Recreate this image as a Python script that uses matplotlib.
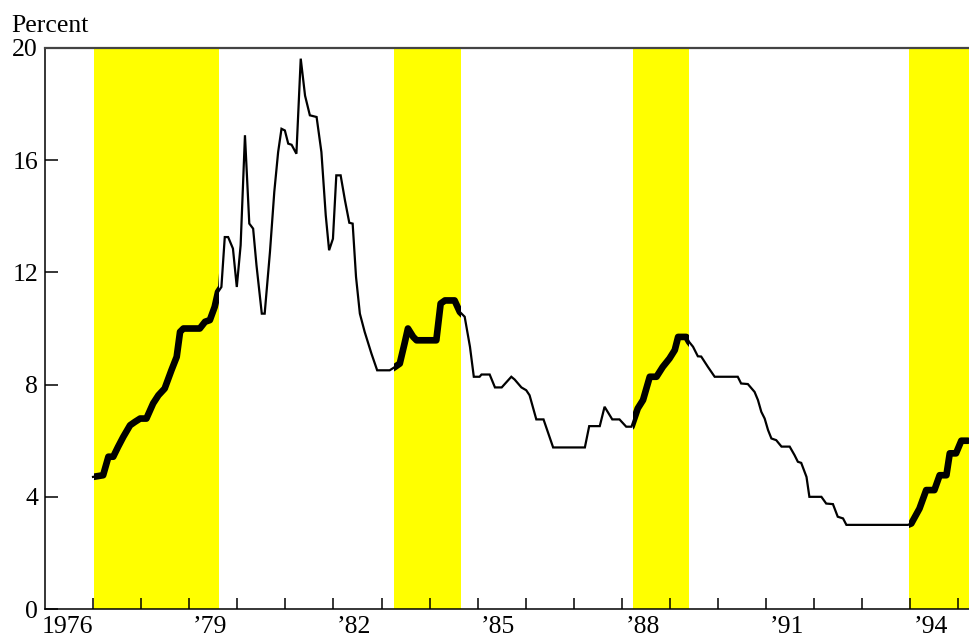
import matplotlib
matplotlib.use("Agg")
import matplotlib.pyplot as plt

plt.rcParams['font.family'] = ['Liberation Serif', 'DejaVu Serif']

# rate readings (decimal year, percent)
dates = [1977.00, 1977.21, 1977.32, 1977.42, 1977.52, 1977.63, 1977.77, 1977.87,
         1977.98, 1978.11, 1978.25, 1978.36, 1978.49, 1978.63, 1978.74, 1978.81,
         1978.88, 1979.22, 1979.33, 1979.43, 1979.53, 1979.60, 1979.67, 1979.74,
         1979.81, 1979.91, 1979.99, 1980.07, 1980.16, 1980.25, 1980.33, 1980.40,
         1980.51, 1980.57, 1980.68, 1980.77, 1980.85, 1980.92, 1980.99, 1981.06,
         1981.13, 1981.23, 1981.32, 1981.41, 1981.51, 1981.65, 1981.75, 1981.84,
         1981.91, 1981.99, 1982.06, 1982.15, 1982.24, 1982.33, 1982.40, 1982.47,
         1982.55, 1982.65, 1982.79, 1982.91, 1983.17, 1983.28, 1983.38, 1983.48,
         1983.55, 1983.66, 1983.73, 1984.14, 1984.23, 1984.32, 1984.52, 1984.63,
         1984.73, 1984.84, 1984.92, 1985.04, 1985.08, 1985.25, 1985.36, 1985.50,
         1985.70, 1985.77, 1985.91, 1986.01, 1986.08, 1986.22, 1986.37, 1986.57,
         1987.23, 1987.32, 1987.54, 1987.64, 1987.80, 1987.95, 1988.09, 1988.20,
         1988.27, 1988.33, 1988.44, 1988.51, 1988.58, 1988.72, 1988.85, 1988.99,
         1989.10, 1989.17, 1989.34, 1989.40, 1989.48, 1989.58, 1989.65, 1989.79,
         1989.93, 1990.41, 1990.48, 1990.62, 1990.76, 1990.83, 1990.90, 1990.97,
         1991.04, 1991.11, 1991.21, 1991.32, 1991.49, 1991.59, 1991.66, 1991.73,
         1991.84, 1991.90, 1992.15, 1992.25, 1992.39, 1992.49, 1992.60, 1992.67,
         1993.95, 1994.02, 1994.19, 1994.33, 1994.50, 1994.61, 1994.75, 1994.82,
         1994.95, 1995.06, 1995.20]
rates = [4.71, 4.77, 5.43, 5.43, 5.78, 6.14, 6.55, 6.67,
         6.79, 6.79, 7.33, 7.62, 7.86, 8.51, 8.99, 9.88,
         10.00, 10.00, 10.24, 10.30, 10.77, 11.30, 11.48, 13.26,
         13.26, 12.85, 11.48, 12.97, 16.89, 13.74, 13.56, 12.25,
         10.53, 10.53, 12.73, 14.87, 16.29, 17.12, 17.06, 16.59,
         16.55, 16.23, 19.62, 18.30, 17.60, 17.54, 16.29, 14.04,
         12.79, 13.20, 15.46, 15.46, 14.57, 13.77, 13.74, 11.84,
         10.53, 9.88, 9.11, 8.51, 8.51, 8.63, 8.75, 9.47,
         10.00, 9.70, 9.58, 9.58, 10.89, 11.00, 11.00, 10.59,
         10.42, 9.35, 8.28, 8.28, 8.36, 8.36, 7.90, 7.90,
         8.28, 8.18, 7.90, 7.80, 7.62, 6.76, 6.76, 5.76,
         5.76, 6.52, 6.52, 7.21, 6.76, 6.76, 6.50, 6.50,
         6.85, 7.15, 7.45, 7.86, 8.28, 8.28, 8.63, 8.93,
         9.23, 9.70, 9.70, 9.52, 9.35, 9.01, 9.00, 8.63,
         8.28, 8.28, 8.04, 8.02, 7.74, 7.45, 7.03, 6.79,
         6.38, 6.08, 6.02, 5.79, 5.79, 5.49, 5.25, 5.21,
         4.71, 4.00, 4.00, 3.76, 3.74, 3.29, 3.23, 3.00,
         3.00, 3.05, 3.58, 4.24, 4.24, 4.77, 4.77, 5.55,
         5.55, 6.00, 6.00]

# tightening periods (shaded, drawn with a heavy line)
period_start = [1977.02, 1983.26, 1988.24, 1993.98]
period_end = [1979.62, 1984.66, 1989.39, 1995.30]

year_ticks = list(range(1977, 1996))
label_pos = [1976.47, 1979.43, 1982.43, 1985.43, 1988.43, 1991.43, 1994.43]
label_txt = ['1976', '\u201979', '\u201982', '\u201985', '\u201988', '\u201991', '\u201994']
y_ticks = [0, 4, 8, 12, 16, 20]

fig = plt.figure(figsize=(9.69, 6.39), dpi=100)
ax = fig.add_axes([0.0464, 0.0469, 0.9536, 0.878])

ax.plot(dates, rates, color='black', lw=1.6, solid_joinstyle='miter', zorder=3)
for a, b in zip(period_start, period_end):
    span = ax.axvspan(a, b, color='#ffff00', lw=0, zorder=1)
    thick, = ax.plot(dates, rates, color='black', lw=4.8, zorder=4,
                     solid_capstyle='round', solid_joinstyle='round')
    thick.set_clip_path(span)

ax.set_xlim(1976, 1995.22)
ax.set_ylim(0, 20)

ax.set_xticks(year_ticks)
ax.set_xticklabels([])
ax.set_xticks(label_pos, minor=True)
ax.set_xticklabels(label_txt, minor=True, fontsize=18.5)
ax.tick_params(axis='x', which='major', direction='in', length=8, width=1.1)
ax.tick_params(axis='x', which='minor', length=0, pad=5)

ax.set_yticks(y_ticks)
ax.set_yticklabels([str(v) for v in y_ticks], fontsize=18.5)
ax.tick_params(axis='y', direction='in', length=9.5, width=1.1, pad=5)

ax.spines['right'].set_visible(False)
ax.spines['top'].set_color('#444444')
ax.spines['top'].set_linewidth(1.6)
ax.spines['left'].set_linewidth(1.1)
ax.spines['bottom'].set_linewidth(1.1)

fig.text(0.012, 1 - 32 / 639, 'Percent', fontsize=18.5, va='baseline', ha='left')

fig.savefig('out.png', dpi=100)
